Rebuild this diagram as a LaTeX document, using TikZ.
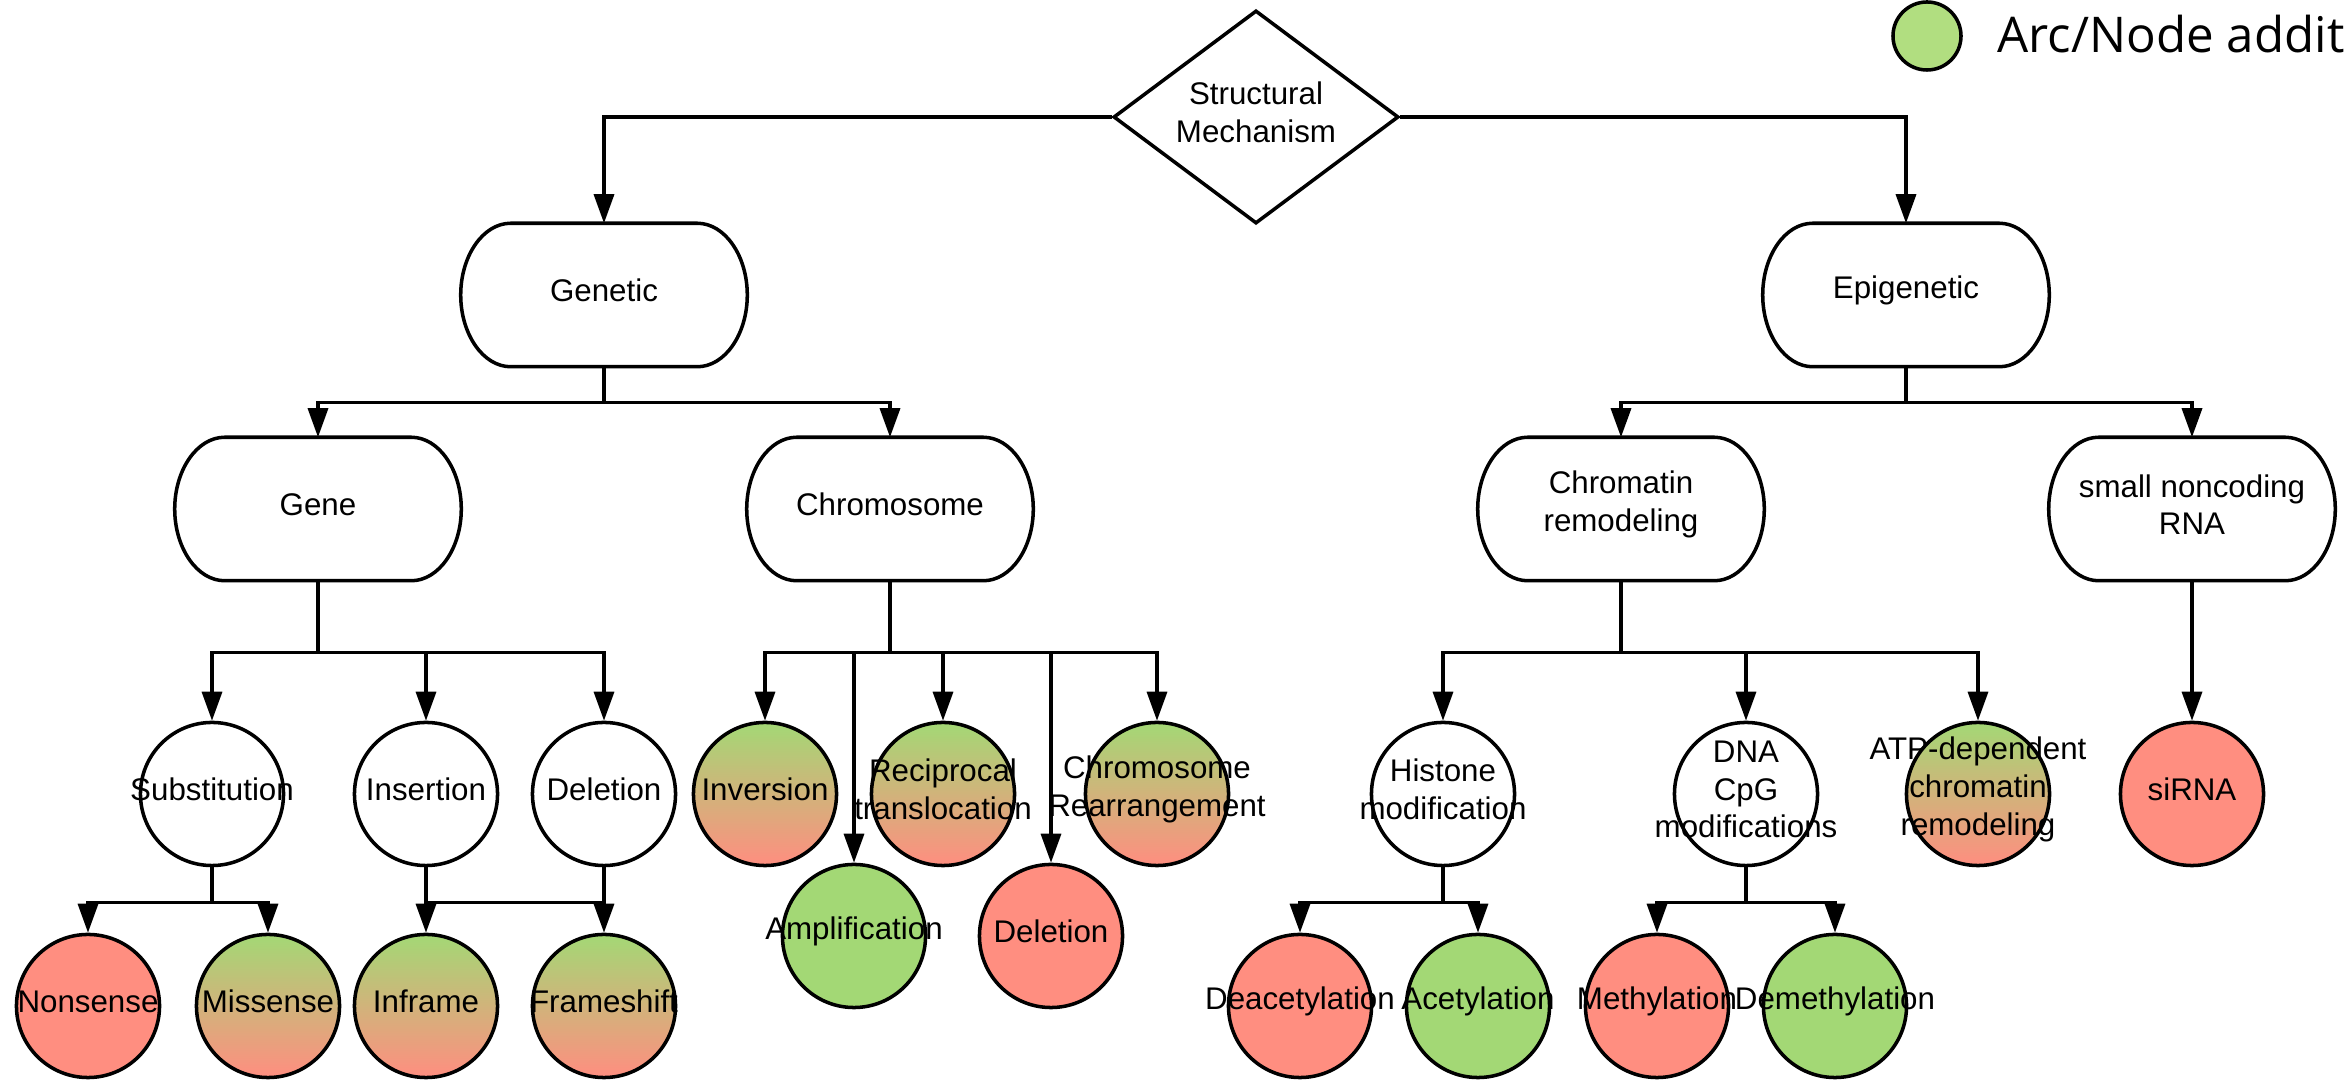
\documentclass[tikz,border=0pt]{standalone}
\usepackage{fontspec}
\newfontfamily\arialfont{Liberation Sans}
\newfontfamily\legendfont{Open Sans}
\usetikzlibrary{arrows.meta, shapes.geometric, calc}
\definecolor{addgreen}{RGB}{163,216,117}
\definecolor{legendgreen}{RGB}{177,222,128}
\definecolor{lossred}{RGB}{255,142,128}
\begin{document}
\begin{tikzpicture}[
  x=0.01cm, y=-0.01cm,
  font=\arialfont\fontsize{8.9}{10.7}\selectfont,
  ar/.style={-{Triangle[length=0.29cm, width=0.2cm]}, line width=0.95pt},
  ln/.style={line width=0.95pt},
  boxline/.style={line width=1pt},
  decision/.style={diamond, draw, line width=1pt, aspect=1.34,
                   minimum width=2.85cm, minimum height=2.13cm, inner sep=0pt},
  category/.style={minimum width=2.85cm, minimum height=1.42cm, inner sep=0pt},
  txt/.style={align=center, inner sep=0pt, yshift=0.045cm},
  mech/.style={circle, draw, line width=1pt, minimum size=1.43cm, inner sep=0pt, fill=white},
  gain/.style={mech, fill=addgreen},
  loss/.style={mech, fill=lossred},
  mixed/.style={mech, top color=addgreen, bottom color=lossred}
]
\useasboundingbox (0,0) rectangle (2344,1080);

\node[decision, label={[txt]center:Structural\\Mechanism}] (top) at (1256,117) {};

\node[category, label={[txt]center:Genetic}] (genetic) at (604,295) {};
\node[category, label={[txt]center:Epigenetic}] (epigenetic) at (1906,295) {};

\node[category, label={[txt]center:Gene}] (gene) at (318,509) {};
\node[category, label={[txt]center:Chromosome}] (chrom) at (890,509) {};
\node[category, label={[txt]center:Chromatin\\remodeling}] (chromatin) at (1621,509) {};
\node[category, label={[txt]center:small noncoding\\RNA}] (sncrna) at (2192,509) {};

% outlines of the category boxes: elliptic corners, so drawn by hand
\foreach \b in {genetic, epigenetic, gene, chrom, chromatin, sncrna}
  \draw[boxline] ($(\b.north west)+(50,0)$) -- ($(\b.north east)+(-50,0)$)
    .. controls +(27.6,0) and +(0,-39.2) .. (\b.east)
    .. controls +(0,39.2) and +(27.6,0) .. ($(\b.south east)+(-50,0)$)
    -- ($(\b.south west)+(50,0)$)
    .. controls +(-27.6,0) and +(0,39.2) .. (\b.west)
    .. controls +(0,-39.2) and +(-27.6,0) .. ($(\b.north west)+(50,0)$) -- cycle;

% gene level
\node[mech, label={[txt]center:Substitution}] (subst) at (212,794) {};
\node[mech, label={[txt]center:Insertion}] (ins) at (426,794) {};
\node[mech, label={[txt]center:Deletion}] (del) at (604,794) {};

\node[loss, label={[txt]center:Nonsense}] (nonsense) at (88,1006) {};
\node[mixed, label={[txt]center:Missense}] (missense) at (268,1006) {};
\node[mixed, label={[txt]center:Inframe}] (inframe) at (426,1006) {};
\node[mixed, label={[txt]center:Frameshift}] (frame) at (604,1006) {};

% chromosome level
\node[mixed, label={[txt]center:Inversion}] (inv) at (765,794) {};
\node[gain, label={[txt]center:Amplification}] (amp) at (854,936) {};
\node[mixed, label={[txt]center:Reciprocal\\translocation}] (recip) at (943,794) {};
\node[loss, label={[txt]center:Deletion}] (del2) at (1051,936) {};
\node[mixed, label={[txt]center:Chromosome\\Rearrangement}] (rearr) at (1157,794) {};

% epigenetic side
\node[mech, label={[txt]center:Histone\\modification}] (histone) at (1443,794) {};
\node[mech, label={[txt]center:DNA\\CpG\\modifications}] (dnacpg) at (1746,794) {};
\node[mixed, label={[txt]center:ATP-dependent\\chromatin\\remodeling}] (atp) at (1978,794) {};
\node[loss, label={[txt]center:siRNA}] (sirna) at (2192,794) {};

\node[loss, label={[txt]center:Deacetylation}] (deacet) at (1300,1006) {};
\node[gain, label={[txt]center:Acetylation}] (acet) at (1478,1006) {};
\node[loss, label={[txt]center:Methylation}] (meth) at (1657,1006) {};
\node[gain, label={[txt]center:Demethylation}] (demeth) at (1835,1006) {};

% legend
\node[circle, draw, line width=1pt, fill=legendgreen, minimum size=0.68cm, inner sep=0pt] (legend) at (1927,36) {};
\node[anchor=base west, inner sep=0pt, font=\legendfont\fontsize{14}{16}\selectfont] (legendtext) at (1997,53) {Arc/Node addit};

% connectors
\draw[ar] (top.west) -| (genetic.north);
\draw[ar] (top.east) -| (epigenetic.north);
\foreach \c in {gene, chrom}
  \draw[ar] (genetic.south) -- ++(0,36) -| (\c.north);
\foreach \c in {chromatin, sncrna}
  \draw[ar] (epigenetic.south) -- ++(0,36) -| (\c.north);

\foreach \c in {subst, ins, del}
  \draw[ar] (gene.south) -- ++(0,72) -| (\c.north);
\foreach \c in {inv, amp, recip, del2, rearr}
  \draw[ar] (chrom.south) -- ++(0,72) -| (\c.north);
\foreach \c in {histone, dnacpg, atp}
  \draw[ar] (chromatin.south) -- ++(0,72) -| (\c.north);
\draw[ar] (sncrna.south) -- (sirna.north);

\foreach \c in {nonsense, missense}
  \draw[ar] (subst.south) -- ++(0,35) -| (\c.north);
\draw[ar] (ins.south) -- (inframe.north);
\draw[ar] (del.south) -- (frame.north);
\draw[ln] ($(ins.south)+(0,35)$) -- ($(del.south)+(0,35)$);
\foreach \c in {deacet, acet}
  \draw[ar] (histone.south) -- ++(0,35) -| (\c.north);
\foreach \c in {meth, demeth}
  \draw[ar] (dnacpg.south) -- ++(0,35) -| (\c.north);
\end{tikzpicture}
\end{document}
